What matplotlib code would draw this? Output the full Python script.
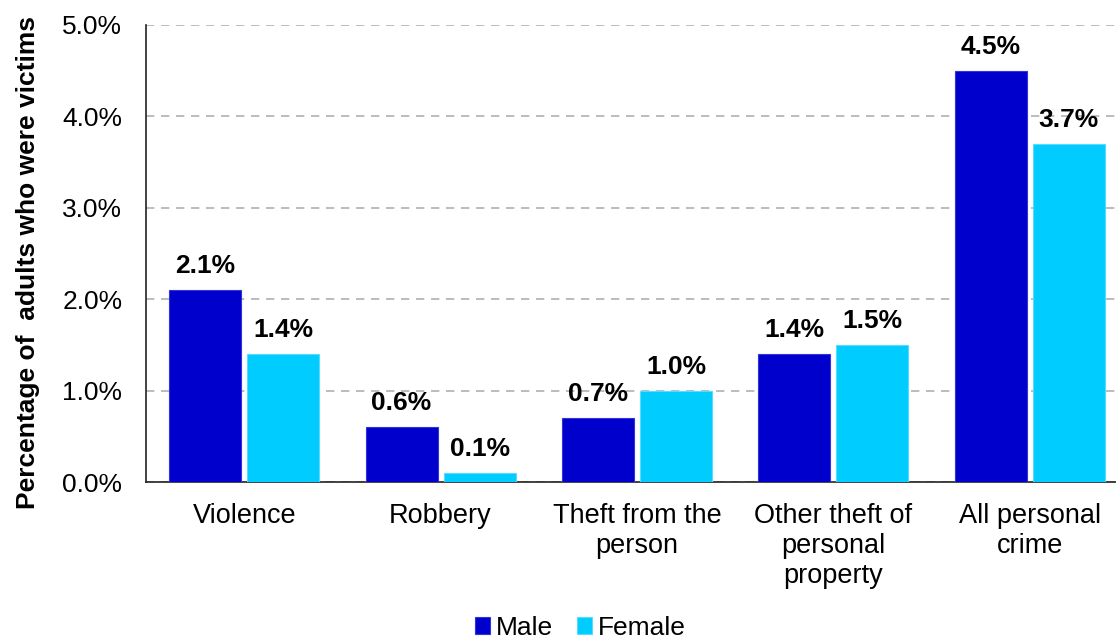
import matplotlib
matplotlib.use("Agg")
import matplotlib.pyplot as plt
import numpy as np
from matplotlib.ticker import FuncFormatter

categories = ["Violence", "Robbery", "Theft from the\nperson",
              "Other theft of\npersonal\nproperty", "All personal\ncrime"]
male = [2.1, 0.6, 0.7, 1.4, 4.5]
female = [1.4, 0.1, 1.0, 1.5, 3.7]
series_names = ["Male", "Female"]
y_ticks = [0.0, 1.0, 2.0, 3.0, 4.0, 5.0]

plt.rcParams["font.family"] = ["Liberation Sans", "DejaVu Sans"]

fig = plt.figure(figsize=(11.16, 6.39), dpi=100)
ax = fig.add_axes([146 / 1116, 157 / 639, 982 / 1116, 457 / 639])

x = np.arange(len(categories))
w = 0.367
gap = 0.015
b1 = ax.bar(x - w / 2 - gap, male, width=w, color="#0000CC",
            edgecolor="#3333dd", linewidth=0.8, label=series_names[0], zorder=3)
b2 = ax.bar(x + w / 2 + gap, female, width=w, color="#00CCFF",
            edgecolor="#55ddff", linewidth=0.8, label=series_names[1], zorder=3)

for bars, vals in ((b1, male), (b2, female)):
    for rect, v in zip(bars, vals):
        ax.annotate(f"{v:.1f}%", (rect.get_x() + rect.get_width() / 2, v),
                    xytext=(0, 12), textcoords="offset points",
                    ha="center", va="baseline", fontsize=19, fontweight="bold")

ax.set_xlim(-0.5, len(categories) - 0.5)
ax.set_ylim(0, 5.0)
ax.set_yticks(y_ticks)
ax.yaxis.set_major_formatter(FuncFormatter(lambda v, p: f"{v:.1f}%"))
ax.set_xticks(x)
ax.set_xticklabels(categories, fontsize=19.5, linespacing=1.2)
ax.tick_params(axis="y", length=0, labelsize=19, pad=17)
ax.tick_params(axis="x", length=0, pad=15)

ax.yaxis.grid(True, color="#b0b0b0", linestyle=(0, (5, 4)), linewidth=1.2, zorder=0)
ax.set_axisbelow(True)
for s in ("top", "right"):
    ax.spines[s].set_visible(False)
for s in ("left", "bottom"):
    ax.spines[s].set_linewidth(1.2)
    ax.spines[s].set_color("#222222")

fig.text(28 / 1116, (639 - 263) / 639, "Percentage of  adults who were victims",
         rotation=90, ha="center", va="center", fontsize=19, fontweight="bold")

fig.legend(handles=[b1, b2], labels=series_names, loc="center",
           bbox_to_anchor=(580 / 1116, 11 / 639), ncol=2, frameon=False,
           fontsize=19, handlelength=0.6, handleheight=0.6, handletextpad=0.2,
           columnspacing=0.9, borderaxespad=0)

fig.savefig("out.png", dpi=100)
